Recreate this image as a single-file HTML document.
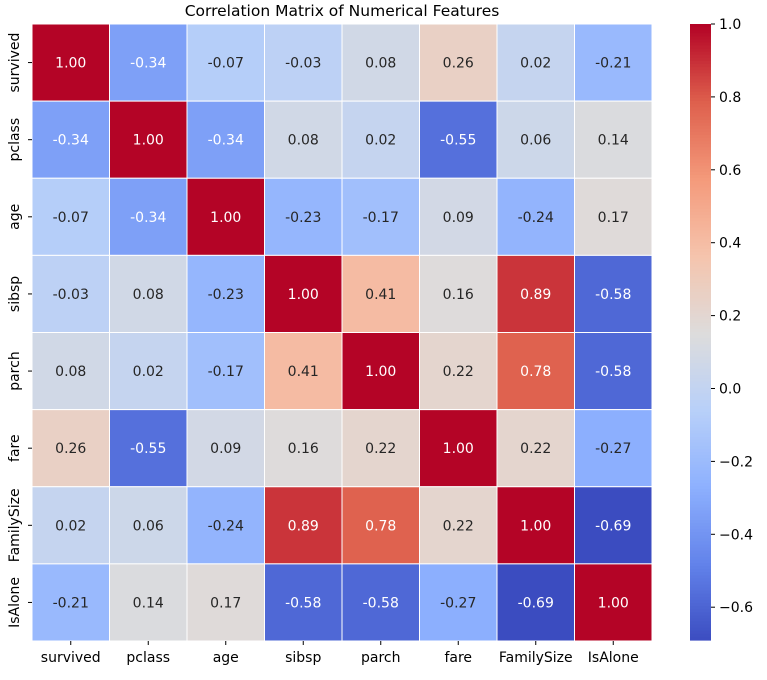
<!DOCTYPE html>
<html><head><meta charset="utf-8"><style>
body{margin:0;background:#fff;font-family:"Liberation Sans","DejaVu Sans",sans-serif}
</style></head><body>
<svg id="chart" width="767" height="675" xmlns="http://www.w3.org/2000/svg" font-family="DejaVu Sans, Liberation Sans, sans-serif"></svg>
<script>
const labels=["survived","pclass","age","sibsp","parch","fare","FamilySize","IsAlone"];
const row0=[1.00,-0.34,-0.07,-0.03,0.08,0.26,0.02,-0.21];
const row1=[-0.34,1.00,-0.34,0.08,0.02,-0.55,0.06,0.14];
const row2=[-0.07,-0.34,1.00,-0.23,-0.17,0.09,-0.24,0.17];
const row3=[-0.03,0.08,-0.23,1.00,0.41,0.16,0.89,-0.58];
const row4=[0.08,0.02,-0.17,0.41,1.00,0.22,0.78,-0.58];
const row5=[0.26,-0.55,0.09,0.16,0.22,1.00,0.22,-0.27];
const row6=[0.02,0.06,-0.24,0.89,0.78,0.22,1.00,-0.69];
const row7=[-0.21,0.14,0.17,-0.58,-0.58,-0.27,-0.69,1.00];
const matrix=[row0,row1,row2,row3,row4,row5,row6,row7];
const cbTicks=[1.0,0.8,0.6,0.4,0.2,0.0,-0.2,-0.4,-0.6];
const vmin=-0.69,vmax=1.0;
const stops=[[59,76,192],[98,130,234],[141,176,254],[184,208,249],[221,220,220],[245,196,173],[244,154,123],[222,96,77],[180,4,38]];
function cmap(t){t=Math.max(0,Math.min(1,t));const p=t*8,i=Math.min(7,Math.floor(p)),f=p-i;const a=stops[i],b=stops[i+1];return [0,1,2].map(k=>Math.round(a[k]+(b[k]-a[k])*f));}
function relLum(c){const l=c.map(v=>{v/=255;return v<=0.03928?v/12.92:Math.pow((v+0.055)/1.055,2.4);});return 0.2126*l[0]+0.7152*l[1]+0.0722*l[2];}
const svg=document.getElementById('chart');const NS="http://www.w3.org/2000/svg";
function el(tag,attrs,parent){const e=document.createElementNS(NS,tag);for(const k in attrs)e.setAttribute(k,attrs[k]);(parent||svg).appendChild(e);return e;}
const X0=32,Y0=24,W=620,H=617,n=labels.length,cw=W/n,ch=H/n;
const t=el('text',{x:342,y:16,'text-anchor':'middle','font-size':15.5,fill:'#000'});t.textContent="Correlation Matrix of Numerical Features";


for(let r=0;r<n;r++)for(let c=0;c<n;c++){
 const v=matrix[r][c];const col=cmap((v-vmin)/(vmax-vmin));
 const rc=el('rect',{x:X0+c*cw,y:Y0+r*ch,width:cw,height:ch,fill:`rgb(${col})`,stroke:'#fff','stroke-width':1});
 
 
 const tx=el('text',{x:X0+(c+0.5)*cw,y:Y0+(r+0.5)*ch+5,'text-anchor':'middle','font-size':14,fill:relLum(col)<0.408?'#fff':'#262626'});
 tx.textContent=v.toFixed(2);
 
 
}
labels.forEach((l,i)=>{
 const x=X0+(i+0.5)*cw;
 el('line',{x1:x,x2:x,y1:Y0+H,y2:Y0+H+4,stroke:'#000'});
 const a=el('text',{x:x,y:662,'text-anchor':'middle','font-size':14,fill:'#000'});a.textContent=l;
 
 
 const y=Y0+(i+0.5)*ch;
 el('line',{x1:X0-4,x2:X0,y1:y,y2:y,stroke:'#000'});
 const b=el('text',{x:0,y:0,'text-anchor':'middle','font-size':14,fill:'#000',transform:`translate(19,${y}) rotate(-90)`});b.textContent=l;
 
 
});
const CX=690,CW=21,CY0=24,CY1=640;
for(let i=0;i<200;i++){const v0=vmax-(vmax-vmin)*i/200;const col=cmap((v0-vmin)/(vmax-vmin));
 el('rect',{x:CX,y:CY0+(CY1-CY0)*i/200,width:CW,height:(CY1-CY0)/200+0.6,fill:`rgb(${col})`});}
const cb=el('rect',{x:CX,y:CY0,width:CW,height:CY1-CY0,fill:'none',stroke:'none'});


cbTicks.forEach(v=>{const y=CY0+(vmax-v)/(vmax-vmin)*(CY1-CY0);
 el('line',{x1:CX+CW,x2:CX+CW+4,y1:y,y2:y,stroke:'#000'});
 const tt=el('text',{x:CX+CW+8,y:y+5,'font-size':14,fill:'#000'});tt.textContent=(v<0?'\u2212':'')+Math.abs(v).toFixed(1);
 
 
});
</script>
</body></html>
